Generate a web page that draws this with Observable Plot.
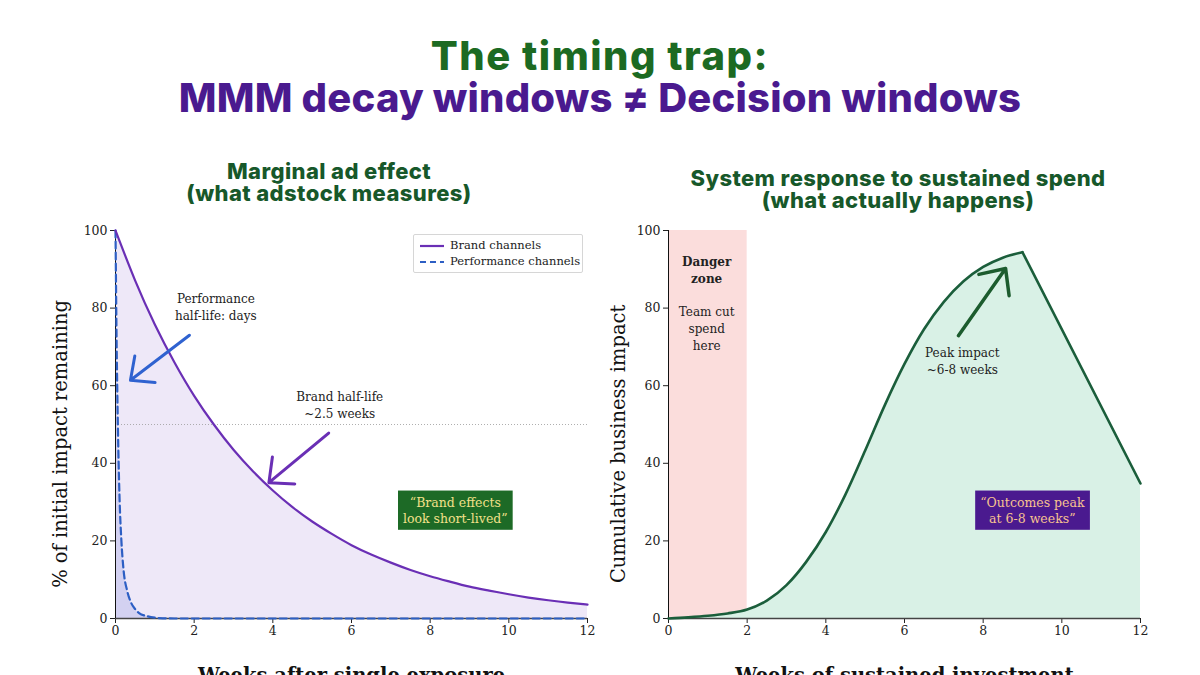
<!DOCTYPE html>
<html>
<head>
<meta charset="utf-8">
<script src="https://cdn.jsdelivr.net/npm/d3@7"></script>
<script src="https://cdn.jsdelivr.net/npm/@observablehq/plot@0.6"></script>
<style>
  html, body { margin: 0; padding: 0; background: #fff; }
  #wrap { position: relative; width: 1200px; height: 675px; overflow: hidden; background: #fff; }
  .abs { position: absolute; }
  .main { left: 0; width: 1200px; text-align: center; font-family: "Inter", "DejaVu Sans", sans-serif; font-weight: 800; font-size: 40px; line-height: 40px; }
  .ptitle { text-align: center; font-family: "Inter", "DejaVu Sans", sans-serif; font-weight: 800; font-size: 22px; letter-spacing: 0.4px; line-height: 22px; color: #17582a; }
  .legend { left: 413px; top: 234px; width: 168px; height: 37px; border: 1px solid #d6d6d6; border-radius: 2px; background: #fff;
            font-family: "DejaVu Serif", serif; font-size: 11.5px; color: #222; }
  .legend div { position: absolute; left: 6px; height: 16px; line-height: 16px; white-space: nowrap; }
  .legend svg { vertical-align: middle; margin-right: 6px; }
</style>
</head>
<body>
<div id="wrap">
  <div class="abs main" style="top:36px;color:#1c6a22;letter-spacing:1.5px">The timing trap:</div>
  <div class="abs main" style="top:78px;color:#4a1a8f;letter-spacing:0.2px">MMM decay windows ≠ Decision windows</div>
  <div class="abs ptitle" style="left:29px;width:600px;top:160px">Marginal ad effect<br>(what adstock measures)</div>
  <div class="abs ptitle" style="left:598px;width:600px;top:167px">System response to sustained spend<br>(what actually happens)</div>
  <div id="left" class="abs" style="left:0;top:210px"></div>
  <div id="right" class="abs" style="left:600px;top:210px"></div>
  <div class="abs legend">
    <div style="top:2px"><svg width="24" height="6"><line x1="0" y1="3" x2="24" y2="3" stroke="#6a2fb5" stroke-width="2.2"/></svg>Brand channels</div>
    <div style="top:18px"><svg width="24" height="6"><line x1="0" y1="3" x2="24" y2="3" stroke="#2d5fc4" stroke-width="2.2" stroke-dasharray="6,4"/></svg>Performance channels</div>
  </div>
</div>
<script>
// ---------- Data ----------
const brandWeeks  = [0,0.5,1,1.5,2,2.5,3,3.5,4,4.5,5,5.5,6,6.5,7,7.5,8,8.5,9,9.5,10,10.5,11,11.5,12];
const brandValues = [100,87.1,75.8,66.0,57.4,50.0,43.5,37.9,33.0,28.7,25.0,21.8,18.9,16.5,14.4,12.5,10.9,9.5,8.2,7.2,6.25,5.4,4.7,4.1,3.6];

const perfWeeks  = [0,0.03,0.06,0.1,0.15,0.2,0.3,0.4,0.5,0.6,0.8,1,1.2,1.5,2,4,6,8,10,12];
const perfValues = [100,70,50,32,20,13,7,4,2.4,1.4,0.6,0.2,0.05,0,0,0,0,0,0,0];

const riseWeeks  = [0,0.5,1,1.5,2,2.5,3,3.5,4,4.5,5,5.5,6,6.5,7,7.5,8,8.5,9];
const riseValues = [0,0.3,0.7,1.3,2.3,4.6,8.6,14.6,22.3,32.0,43.3,55.0,65.6,74.6,81.6,86.9,90.6,93.0,94.4];
const fallWeeks  = [9,12];
const fallValues = [94.4,34.8];

const xTicks = [0,2,4,6,8,10,12];
const yTicks = [0,20,40,60,80,100];

// annotations (data coordinates)
const leftNotes = [
  {x: 2.55, y: 82.2, text: "Performance"},
  {x: 2.55, y: 77.8, text: "half-life: days"},
  {x: 5.7,  y: 57.0, text: "Brand half-life"},
  {x: 5.7,  y: 52.6, text: "~2.5 weeks"}
];
const leftArrows = [
  {x1: 1.88, y1: 73.0, x2: 0.38, y2: 61.4, color: "#2f62d0"},
  {x1: 5.42, y1: 47.8, x2: 3.9,  y2: 35.0, color: "#6a2fb5"}
];
const leftBox = [{x: 8.64, y: 28.1, text: "“Brand effects\nlook short-lived”"}];

const dangerZone = [{x1: 0, x2: 2, y1: 0, y2: 100}];
const dangerBold = [{x: 0.97, y: 91.8, text: "Danger"}, {x: 0.97, y: 87.4, text: "zone"}];
const dangerNotes = [{x: 0.97, y: 78.9, text: "Team cut"}, {x: 0.97, y: 74.5, text: "spend"}, {x: 0.97, y: 70.1, text: "here"}];
const rightNotes = [{x: 7.47, y: 68.3, text: "Peak impact"}, {x: 7.47, y: 63.9, text: "~6-8 weeks"}];
const rightArrows = [{x1: 7.37, y1: 72.9, x2: 8.57, y2: 90.2}];
const rightBox = [{x: 9.25, y: 28.1, text: "“Outcomes peak\nat 6-8 weeks”"}];

const leftAxisTitles  = {y: "% of initial impact remaining", x: "Weeks after single exposure"};
const rightAxisTitles = {y: "Cumulative business impact", x: "Weeks of sustained investment"};

const brand = brandWeeks.map((w, i) => ({w, v: brandValues[i]}));
const perf  = perfWeeks.map((w, i) => ({w, v: perfValues[i]}));
const rise  = riseWeeks.map((w, i) => ({w, v: riseValues[i]}));
const fall  = fallWeeks.map((w, i) => ({w, v: fallValues[i]}));

const SERIF = "DejaVu Serif, serif";
const common = {
  width: 600, height: 465, marginTop: 20, marginBottom: 57,
  style: {background: "transparent", overflow: "visible", fontFamily: SERIF, fontSize: "12.5px", color: "#222"},
  x: {domain: [0, 12], ticks: xTicks, label: null},
  y: {domain: [0, 100], ticks: yTicks, label: null}
};

function axes(titles, yLabelX) {
  return [
    Plot.axisX({ticks: xTicks, tickSize: 5, tickPadding: 3, fontSize: 12.5, label: null}),
    Plot.axisY({ticks: yTicks, tickSize: 5, tickPadding: 3, fontSize: 12.5, label: null}),
    Plot.ruleY([0], {stroke: "#444", strokeWidth: 1.6}),
    Plot.ruleX([0], {stroke: "#111", strokeWidth: 1}),
    Plot.text([titles.y], {x: yLabelX, y: 45, rotate: -90, fontSize: 19.5, fill: "#111", text: d => d}),
    Plot.text([titles.x], {x: 6, y: -14.8, fontSize: 19.5, fontWeight: "bold", fill: "#111", text: d => d})
  ];
}

const left = Plot.plot({
  ...common, marginLeft: 115, marginRight: 13,
  marks: [
    Plot.areaY(brand, {x: "w", y: "v", fill: "#7a4cc8", fillOpacity: 0.13, curve: "natural"}),
    Plot.areaY(perf, {x: "w", y: "v", fill: "#4a5fd0", fillOpacity: 0.16, curve: "monotone-x"}),
    Plot.ruleY([50], {stroke: "#9a9a9a", strokeWidth: 0.8, strokeDasharray: "1,2"}),
    ...axes(leftAxisTitles, -1.4),
    Plot.line(perf, {x: "w", y: "v", stroke: "#2d5fc4", strokeWidth: 2.2, strokeDasharray: "7,4", curve: "monotone-x"}),
    Plot.line(brand, {x: "w", y: "v", stroke: "#6a2fb5", strokeWidth: 2.2, curve: "natural"}),
    Plot.arrow(leftArrows, {x1: "x1", y1: "y1", x2: "x2", y2: "y2", stroke: "color", strokeWidth: 3, headLength: 22, headAngle: 85}),
    Plot.text(leftNotes, {x: "x", y: "y", text: "text", fontSize: 12, fill: "#222"}),
    Plot.text(leftBox, {x: "x", y: "y", text: "text", fontSize: 12.5, fill: "#f2e08a", lineHeight: 1.3})
  ]
});

const right = Plot.plot({
  ...common, marginLeft: 68, marginRight: 60,
  marks: [
    Plot.rectY(dangerZone, {x1: "x1", x2: "x2", y1: "y1", y2: "y2", fill: "#fbd9d8", fillOpacity: 0.9}),
    Plot.areaY(rise, {x: "w", y: "v", fill: "#d9f1e6", curve: "monotone-x"}),
    Plot.areaY(fall, {x: "w", y: "v", fill: "#d9f1e6"}),
    ...axes(rightAxisTitles, -1.27),
    Plot.line(rise, {x: "w", y: "v", stroke: "#1b5e3b", strokeWidth: 2.6, curve: "monotone-x"}),
    Plot.line(fall, {x: "w", y: "v", stroke: "#1b5e3b", strokeWidth: 2.6}),
    Plot.arrow(rightArrows, {x1: "x1", y1: "y1", x2: "x2", y2: "y2", stroke: "#1c5c2e", strokeWidth: 3.5, headLength: 22, headAngle: 85}),
    Plot.text(dangerBold, {x: "x", y: "y", text: "text", fontSize: 12, fontWeight: "bold", fill: "#222"}),
    Plot.text(dangerNotes, {x: "x", y: "y", text: "text", fontSize: 12, fill: "#222"}),
    Plot.text(rightNotes, {x: "x", y: "y", text: "text", fontSize: 12, fill: "#222"}),
    Plot.text(rightBox, {x: "x", y: "y", text: "text", fontSize: 12.5, fill: "#f7c38f", lineHeight: 1.3})
  ]
});

document.getElementById("left").appendChild(left);
document.getElementById("right").appendChild(right);

// Draw the coloured boxes behind the quote labels, sized from the rendered text
function addBox(svg, textFill, bg) {
  const ns = "http://www.w3.org/2000/svg";
  svg.querySelectorAll("g").forEach(g => {
    if (g.getAttribute("fill") !== textFill) return;
    g.querySelectorAll("text").forEach(t => {
      const b = t.getBBox();
      const tr = t.getAttribute("transform");
      const r = document.createElementNS(ns, "rect");
      r.setAttribute("x", b.x - 5);
      r.setAttribute("y", b.y - 4);
      r.setAttribute("width", b.width + 10);
      r.setAttribute("height", b.height + 8);
      r.setAttribute("fill", bg);
      if (tr) r.setAttribute("transform", tr);
      g.insertBefore(r, t);
    });
  });
}
addBox(left, "#f2e08a", "#1d6a26");
addBox(right, "#f7c38f", "#4a1a8f");
</script>
</body>
</html>
